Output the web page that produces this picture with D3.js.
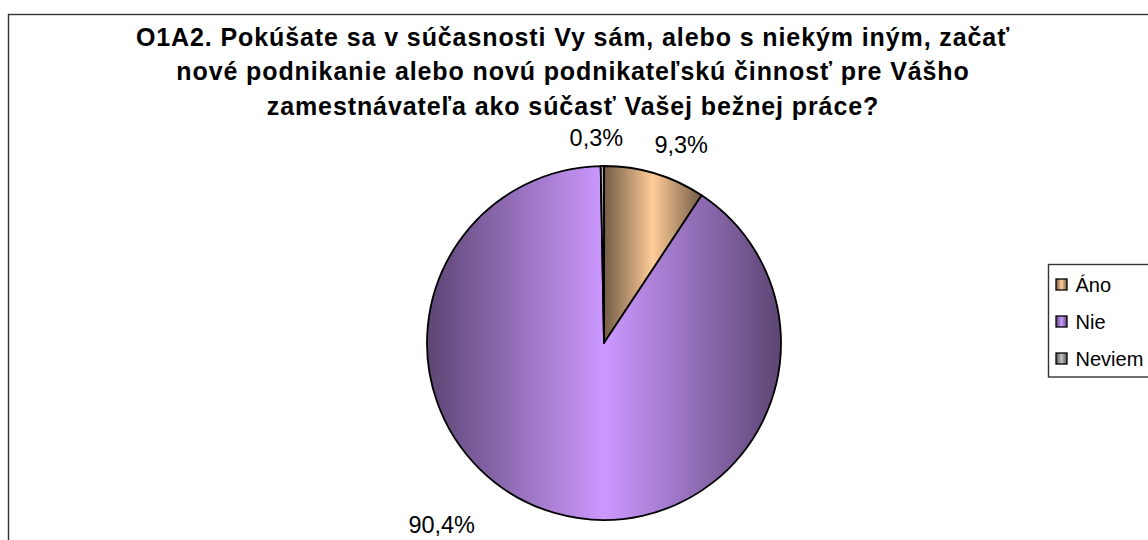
<!DOCTYPE html>
<html>
<head>
    <meta charset="utf-8">
    <title>O1A2 pie</title>
    <script src="https://d3js.org/d3.v7.min.js"></script>
    <style>
        body { margin: 0; background: #fff; }
        text { font-family: "Liberation Sans", Arial, sans-serif; fill: #000; }
    </style>
</head>
<body>
<script>
    // data
    var categories = ["Áno", "Nie", "Neviem"];
    var values = [9.3, 90.4, 0.3];
    var titleLines = [
        "O1A2. Pokúšate sa v súčasnosti Vy sám, alebo s niekým iným, začať",
        "nové podnikanie alebo novú podnikateľskú činnosť pre Vášho",
        "zamestnávateľa ako súčasť Vašej bežnej práce?"
    ];

    // colours (light tone in the middle, dark tone at the edges)
    var lightColors = ["#FFCC99", "#CC99FF", "#C0C0C0"];
    var darkColors = ["#735C45", "#5C4573", "#565656"];

    // label placement: angle nudge (deg) and radius, like excel put them
    var labelPlace = {
        "Áno": { da: 4.5, r: 213 },
        "Nie": { da: 25.5, r: 244 },
        "Neviem": { da: -1.6, r: 205 }
    };

    var width = 1148, height = 540;
    var cx = 604, cy = 343, radius = 177;

    var svg = d3.select("body").append("svg")
        .attr("width", width)
        .attr("height", height);

    var defs = svg.append("defs");
    categories.forEach(function (c, i) {
        var g = defs.append("linearGradient")
            .attr("id", "grad" + i)
            .attr("x1", "0%").attr("x2", "100%")
            .attr("y1", "0%").attr("y2", "0%");
        g.append("stop").attr("offset", "0%").attr("stop-color", darkColors[i]);
        g.append("stop").attr("offset", "50%").attr("stop-color", lightColors[i]);
        g.append("stop").attr("offset", "100%").attr("stop-color", darkColors[i]);
    });

    // chart frame
    svg.append("rect")
        .attr("x", 8.5).attr("y", 14.5)
        .attr("width", 1160).attr("height", 560)
        .attr("fill", "none")
        .attr("stroke", "#333")
        .attr("stroke-width", 1.4);

    // title
    svg.append("text")
        .attr("x", 573)
        .attr("y", 45.5)
        .attr("text-anchor", "middle")
        .style("font-size", "25px")
        .style("font-weight", "bold")
        .style("letter-spacing", "0.9px")
        .selectAll("tspan")
        .data(titleLines)
        .enter().append("tspan")
        .attr("x", 573)
        .attr("dy", function (d, i) { return i === 0 ? 0 : 34.5; })
        .text(function (d) { return d; });

    var data = categories.map(function (c, i) { return { name: c, value: values[i], i: i }; });

    var pie = d3.pie()
        .sort(null)
        .value(function (d) { return d.value; });

    var arc = d3.arc()
        .innerRadius(0)
        .outerRadius(radius);

    var arcs = pie(data);

    var g = svg.append("g")
        .attr("transform", "translate(" + cx + "," + cy + ")");

    g.selectAll("path.slice")
        .data(arcs)
        .enter().append("path")
        .attr("class", "slice")
        .attr("d", arc)
        .attr("fill", function (d) { return "url(#grad" + d.data.i + ")"; })
        .attr("stroke", "#000")
        .attr("stroke-width", 1.8)
        .attr("stroke-linejoin", "round");

    var fmt = function (v) { return d3.format(".1f")(v).replace(".", ",") + "%"; };

    g.selectAll("text.lbl")
        .data(arcs)
        .enter().append("text")
        .attr("class", "lbl")
        .attr("text-anchor", "middle")
        .attr("dy", "0.35em")
        .style("font-size", "23.5px")
        .attr("x", function (d) {
            var p = labelPlace[d.data.name];
            var a = (d.startAngle + d.endAngle) / 2 + p.da * Math.PI / 180;
            return p.r * Math.sin(a);
        })
        .attr("y", function (d) {
            var p = labelPlace[d.data.name];
            var a = (d.startAngle + d.endAngle) / 2 + p.da * Math.PI / 180;
            return -p.r * Math.cos(a);
        })
        .text(function (d) { return fmt(d.data.value); });

    // legend
    var legend = svg.append("g")
        .attr("transform", "translate(1048.5,264.5)");

    legend.append("rect")
        .attr("width", 130).attr("height", 112.5)
        .attr("fill", "#fff")
        .attr("stroke", "#333")
        .attr("stroke-width", 1.4);

    var y = d3.scalePoint()
        .domain(categories)
        .range([20, 94]);

    var item = legend.selectAll("g.item")
        .data(categories)
        .enter().append("g")
        .attr("class", "item")
        .attr("transform", function (d) { return "translate(0," + y(d) + ")"; });

    item.append("rect")
        .attr("x", 7.5).attr("y", -5.5)
        .attr("width", 11).attr("height", 11)
        .attr("fill", function (d, i) { return "url(#grad" + i + ")"; })
        .attr("stroke", "#000")
        .attr("stroke-width", 1.3);

    item.append("text")
        .attr("x", 27)
        .attr("dy", "0.35em")
        .style("font-size", "20px")
        .text(function (d) { return d; });
</script>
</body>
</html>
